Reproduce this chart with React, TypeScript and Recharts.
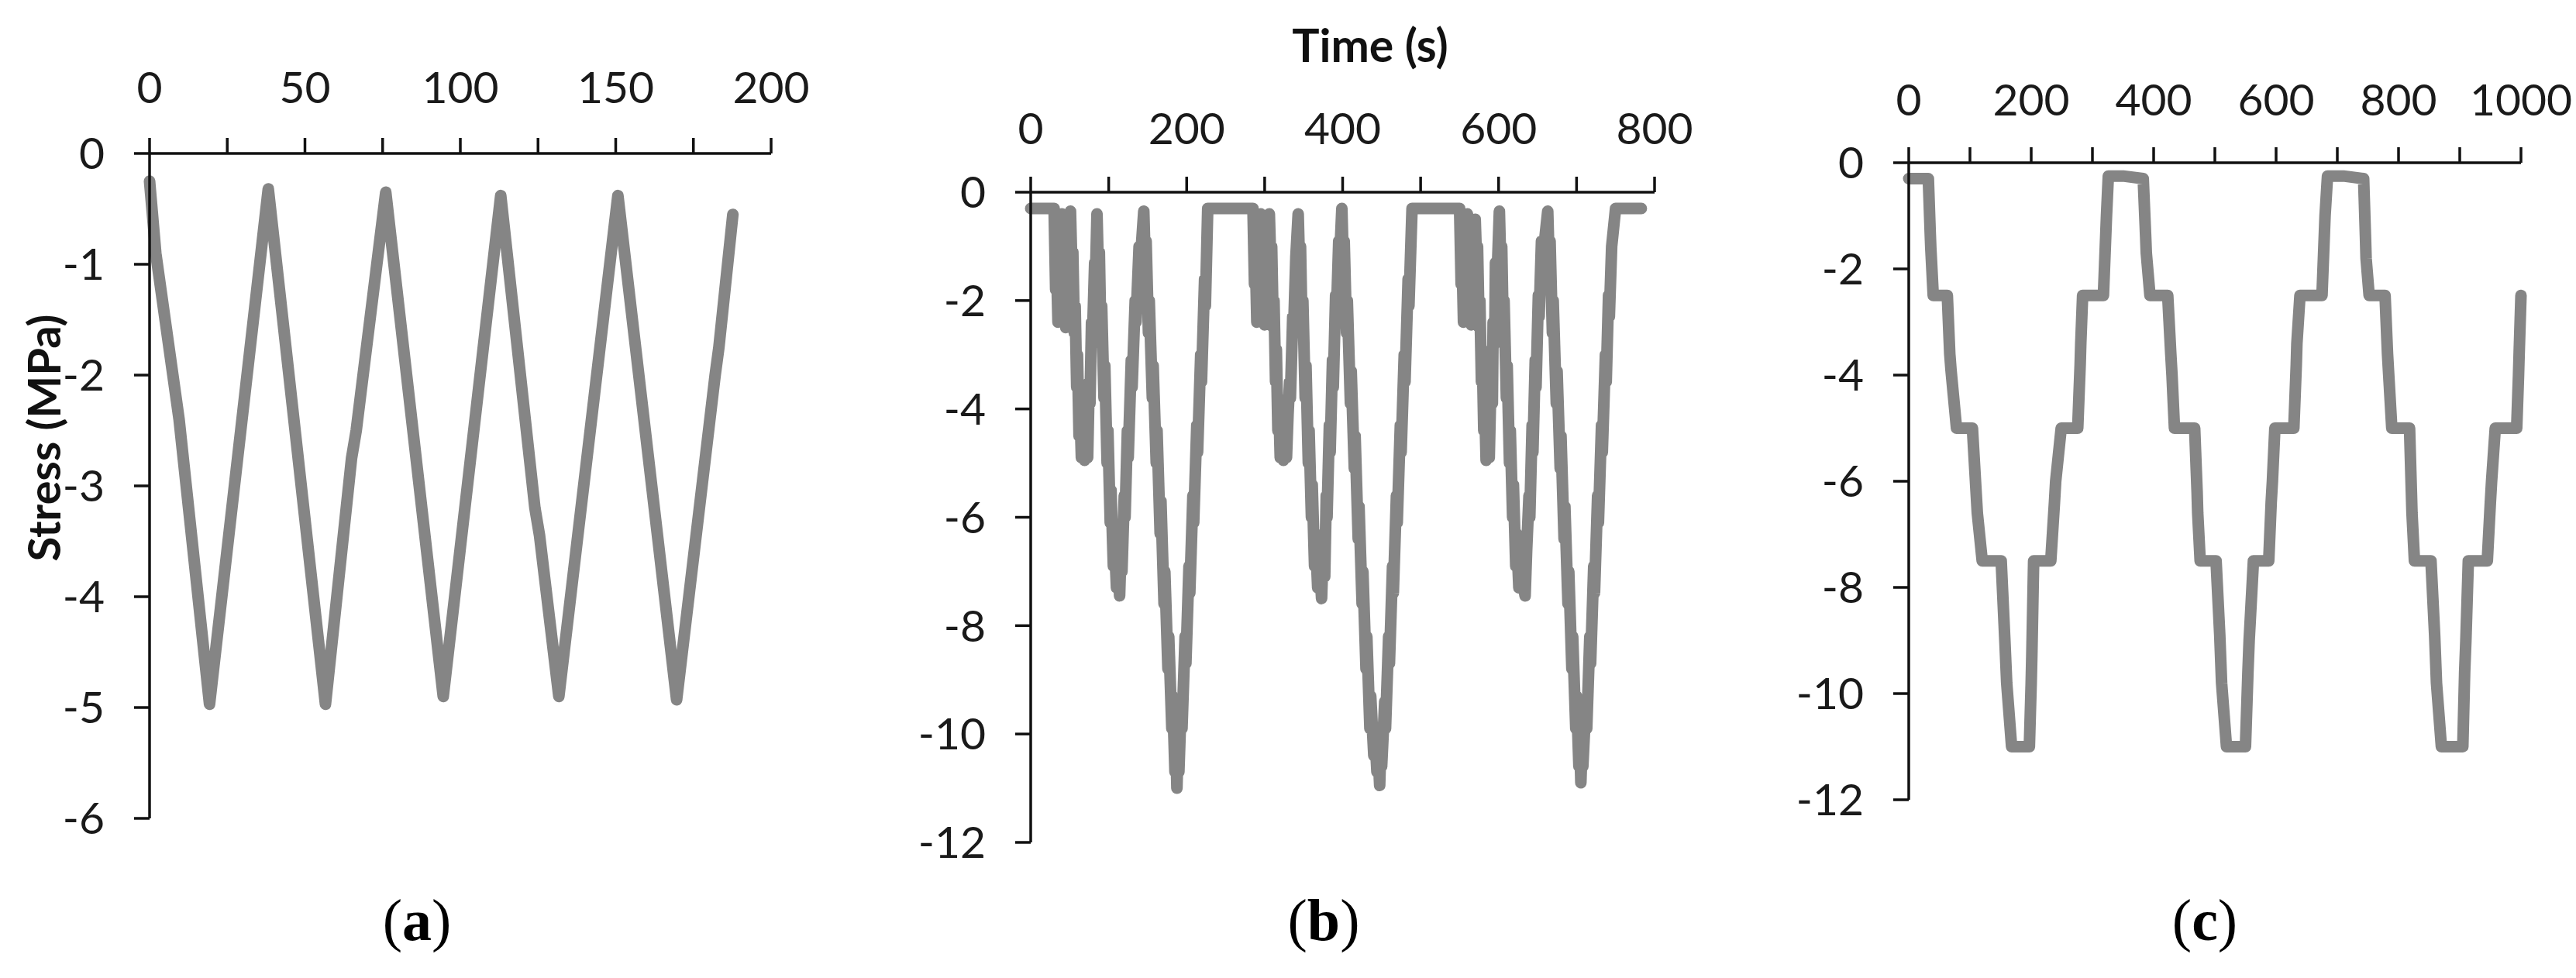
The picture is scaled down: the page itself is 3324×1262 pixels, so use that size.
import React from 'react';
import { LineChart, Line, XAxis, YAxis } from 'recharts';

// ---------- Panel (a) ----------
const timeA = [0, 2, 7.5, 9.5, 19.3, 38.2, 56.6, 65, 66.5, 76, 94.5, 113, 124, 125.5, 131.7, 150.7, 169.6, 182, 183.2, 187.7];
const stressA = [-0.25, -0.9, -2.0, -2.4, -4.97, -0.32, -4.97, -2.75, -2.5, -0.35, -4.9, -0.38, -3.2, -3.45, -4.9, -0.38, -4.93, -2.0, -1.75, -0.55];
const xTicksA = [0, 25, 50, 75, 100, 125, 150, 175, 200];
const xLabelsA = [0, 50, 100, 150, 200];
const yTicksA = [-6, -5, -4, -3, -2, -1, 0];

// ---------- Panel (b) ----------
const timeB = [
  0, 30, 32, 33, 35, 37, 38, 40, 42, 43, 45, 47, 48, 51, 53, 54, 56, 57, 59, 60, 62, 63, 65, 67, 69, 71, 73, 75, 76, 78, 79, 82, 83, 85,
  87, 88, 90, 91, 94, 95, 98, 99, 102, 103, 106, 107, 110, 112, 114, 116, 117, 120, 121, 124, 125, 129, 130, 134, 135, 139, 140, 145,
  147, 148, 151, 152, 156, 157, 161, 162, 166, 167, 171, 172, 176, 177, 181, 182, 185, 186, 187.5, 189, 190, 193, 194, 198, 199, 203, 204, 208, 209, 213, 214, 218, 219, 223, 224, 227,
  285, 287, 288, 290, 292, 293, 295, 297, 298, 300, 302, 303, 306, 308, 309, 311, 312, 314, 315, 317, 318, 320, 322, 324, 326, 328, 330, 332, 333, 336, 337, 340, 343,
  345, 346, 348, 349, 352, 353, 356, 357, 360, 361, 364, 365, 368, 370, 373, 375, 377, 379, 380, 383, 384, 387, 388, 391, 392, 395, 396, 399,
  401, 402, 405, 406, 410, 411, 415, 416, 420, 421, 425, 426, 430, 431, 435, 436, 440, 441, 444, 445, 447.5, 449, 450, 454, 455, 459, 460, 464, 465, 469, 470, 474, 475, 479, 480, 484, 485, 489,
  550, 552, 553, 555, 557, 558, 560, 562, 563, 565, 567, 568, 570, 572, 573, 575, 576, 578, 579, 581, 582, 584, 586, 588, 590, 592, 593, 595, 596, 598, 601,
  603, 604, 606, 607, 610, 611, 614, 615, 618, 619, 622, 623, 626, 628, 631, 634, 636, 639, 640, 643, 644, 647, 648, 651, 652, 655, 656, 663,
  665, 666, 669, 670, 674, 675, 679, 680, 684, 685, 689, 690, 694, 695, 699, 700, 703, 704, 705.5, 707, 708, 712, 713, 717, 718, 722, 723, 727, 728, 732, 733, 737, 738, 741, 742, 745, 750,
  783,
];
const stressB = [
  -0.3, -0.3, -1.8, -1.2, -2.4, -0.9, -2.0, -0.4, -1.6, -1.0, -2.5, -1.5, -2.2, -0.35, -1.5, -1.1, -2.6, -2.1, -3.6, -3.0, -4.5, -3.9, -4.9, -4.2, -4.95, -4.4, -4.9, -3.5, -3.9, -2.4, -2.8, -1.3, -1.6, -0.4,
  -1.6, -1.1, -2.7, -2.1, -3.8, -3.2, -5.0, -4.4, -6.1, -5.5, -6.9, -6.3, -7.3, -6.7, -7.45, -6.5, -7.0, -5.6, -6.0, -4.4, -4.9, -3.1, -3.6, -2.0, -2.4, -1.0, -1.4, -0.35,
  -1.4, -0.9, -2.6, -2.0, -3.8, -3.2, -5.0, -4.4, -6.3, -5.7, -7.6, -7.0, -8.8, -8.2, -9.9, -9.3, -10.7, -10.1, -11.0, -10.2, -10.7, -9.4, -9.9, -8.2, -8.7, -6.9, -7.4, -5.6, -6.1, -4.3, -4.8, -3.0, -3.5, -1.6, -2.1, -0.3,
  -0.3, -1.7, -1.1, -2.4, -0.9, -1.9, -0.4, -1.5, -1.0, -2.45, -1.4, -2.1, -0.4, -1.4, -1.0, -2.5, -2.0, -3.5, -2.9, -4.4, -3.8, -4.9, -4.2, -4.95, -4.3, -4.9, -4.1, -3.5, -3.8, -2.3, -2.6, -1.2, -0.4,
  -1.5, -1.0, -2.6, -2.0, -3.8, -3.2, -5.0, -4.4, -6.0, -5.4, -6.9, -6.3, -7.3, -6.7, -7.5, -6.6, -7.1, -5.6, -6.0, -4.3, -4.8, -3.1, -3.6, -1.9, -2.3, -0.9, -1.3, -0.3,
  -1.4, -0.9, -2.6, -2.0, -3.9, -3.3, -5.1, -4.5, -6.4, -5.8, -7.6, -7.0, -8.8, -8.2, -9.9, -9.3, -10.4, -9.9, -10.7, -10.2, -10.95, -10.2, -10.6, -9.4, -9.9, -8.2, -8.7, -6.9, -7.4, -5.6, -6.1, -4.3, -4.8, -3.0, -3.5, -1.6, -2.1, -0.3,
  -0.3, -1.7, -1.1, -2.4, -0.9, -1.9, -0.4, -1.5, -1.0, -2.45, -1.4, -2.1, -0.5, -1.4, -1.0, -2.5, -2.0, -3.5, -2.9, -4.4, -3.8, -4.95, -4.2, -4.9, -3.6, -3.9, -2.4, -2.8, -1.3, -1.6, -0.35,
  -1.5, -1.0, -2.6, -2.0, -3.8, -3.2, -5.0, -4.4, -6.0, -5.4, -6.9, -6.3, -7.3, -6.7, -7.2, -7.45, -6.6, -5.6, -6.0, -4.3, -4.8, -3.1, -3.6, -1.9, -2.3, -0.9, -1.3, -0.35,
  -1.4, -0.9, -2.6, -2.0, -3.9, -3.3, -5.1, -4.5, -6.4, -5.8, -7.6, -7.0, -8.8, -8.2, -9.9, -9.3, -10.6, -10.1, -10.9, -10.2, -10.6, -9.4, -9.9, -8.2, -8.7, -6.9, -7.4, -5.6, -6.1, -4.3, -4.8, -3.0, -3.5, -1.9, -2.3, -1.0, -0.3,
  -0.3,
];
const xTicksB = [0, 100, 200, 300, 400, 500, 600, 700, 800];
const xLabelsB = [0, 200, 400, 600, 800];
const yTicksB = [-12, -10, -8, -6, -4, -2, 0];

// ---------- Panel (c) ----------
const timeC = [
  0, 32, 35, 36, 40, 63, 67, 69, 78, 104, 110, 112, 120, 151, 157, 160, 168, 197, 200, 201, 204, 232, 238, 240, 249, 276, 280, 281, 284, 318, 322, 323, 326, 350, 383,
  387, 388, 394, 423, 428, 430, 434, 467, 471, 472, 476, 502, 508, 511, 519, 550, 554, 556, 563, 588, 592, 594, 598, 629, 633, 634, 639, 675, 679, 680, 684, 710, 743,
  746, 747, 752, 778, 782, 784, 789, 818, 821, 822, 826, 853, 859, 862, 870, 905, 908, 910, 914, 945, 950, 952, 958, 993, 996, 997, 1000,
];
const stressC = [
  -0.3, -0.3, -1.3, -1.6, -2.5, -2.5, -3.6, -3.9, -5.0, -5.0, -6.2, -6.6, -7.5, -7.5, -9.0, -9.8, -11.0, -11.0, -9.8, -9.3, -7.5, -7.5, -6.4, -6.0, -5.0, -5.0, -3.8, -3.4, -2.5, -2.5, -1.3, -1.0, -0.25, -0.25, -0.3,
  -1.4, -1.7, -2.5, -2.5, -3.6, -4.0, -5.0, -5.0, -6.2, -6.6, -7.5, -7.5, -8.9, -9.8, -11.0, -11.0, -9.6, -9.0, -7.5, -7.5, -6.4, -6.0, -5.0, -5.0, -3.8, -3.4, -2.5, -2.5, -1.3, -1.0, -0.25, -0.25, -0.3,
  -1.4, -1.8, -2.5, -2.5, -3.6, -4.0, -5.0, -5.0, -6.2, -6.6, -7.5, -7.5, -8.9, -9.8, -11.0, -11.0, -9.6, -9.0, -7.5, -7.5, -6.4, -6.0, -5.0, -5.0, -4.0, -3.6, -2.5,
];
const xTicksC = [0, 100, 200, 300, 400, 500, 600, 700, 800, 900, 1000];
const xLabelsC = [0, 200, 400, 600, 800, 1000];
const yTicksC = [-12, -10, -8, -6, -4, -2, 0];

// ---------- Text ----------
const yTitle = 'Stress (MPa)';
const xTitle = 'Time (s)';
const captions = ['a', 'b', 'c'];

const zip = (t: number[], s: number[]) => t.map((v, i) => ({ t: v, s: s[i] }));

const LINE = '#858585';
const AXIS = '#111111';
const TICK_FONT = { fill: '#1a1a1a', fontSize: 57, fontFamily: 'Lato' };

type PanelProps = {
  data: { t: number; s: number }[];
  left: number;
  width: number;
  margin: { top: number; right: number; bottom: number; left: number };
  xDomain: [number, number];
  yDomain: [number, number];
  xTicks: number[];
  xLabels: number[];
  yTicks: number[];
  xMargin: number;
  yMargin: number;
};

function Panel(p: PanelProps) {
  return (
    <div style={{ position: 'absolute', left: p.left, top: 0 }}>
      <LineChart width={p.width} height={1262} data={p.data} margin={p.margin}>
        <XAxis
          type="number"
          dataKey="t"
          orientation="top"
          domain={p.xDomain}
          ticks={p.xTicks}
          interval={0}
          height={100}
          tickFormatter={(v: number) => (p.xLabels.includes(v) ? String(v) : '')}
          axisLine={{ stroke: AXIS, strokeWidth: 3.5 }}
          tickLine={{ stroke: AXIS, strokeWidth: 3.5 }}
          tickSize={20}
          tickMargin={p.xMargin}
          tick={TICK_FONT}
        />
        <YAxis
          type="number"
          domain={p.yDomain}
          ticks={p.yTicks}
          interval={0}
          width={150}
          axisLine={{ stroke: AXIS, strokeWidth: 3.5 }}
          tickLine={{ stroke: AXIS, strokeWidth: 3.5 }}
          tickSize={20}
          tickMargin={p.yMargin}
          tick={TICK_FONT}
        />
        <Line
          type="linear"
          dataKey="s"
          stroke={LINE}
          strokeWidth={15}
          strokeLinejoin="round"
          strokeLinecap="round"
          dot={false}
          activeDot={false}
          isAnimationActive={false}
        />
      </LineChart>
    </div>
  );
}

export default function App() {
  return (
    <div style={{ position: 'fixed', left: 0, top: 0, width: 3324, height: 1262, background: '#ffffff', overflow: 'hidden' }}>
      <Panel
        data={zip(timeA, stressA)}
        left={0}
        width={1100}
        margin={{ top: 98, right: 105, bottom: 206, left: 43 }}
        xDomain={[0, 200]}
        yDomain={[-6, 0]}
        xTicks={xTicksA}
        xLabels={xLabelsA}
        yTicks={yTicksA}
        xMargin={45}
        yMargin={38}
      />
      <Panel
        data={zip(timeB, stressB)}
        left={1150}
        width={1100}
        margin={{ top: 148, right: 115, bottom: 175, left: 30 }}
        xDomain={[0, 800]}
        yDomain={[-12, 0]}
        xTicks={xTicksB}
        xLabels={xLabelsB}
        yTicks={yTicksB}
        xMargin={42}
        yMargin={38}
      />
      <Panel
        data={zip(timeC, stressC)}
        left={2300}
        width={1024}
        margin={{ top: 110, right: 71, bottom: 230, left: 13 }}
        xDomain={[0, 1000]}
        yDomain={[-12, 0]}
        xTicks={xTicksC}
        xLabels={xLabelsC}
        yTicks={yTicksC}
        xMargin={41}
        yMargin={38}
      />
      <svg width={3324} height={1262} style={{ position: 'absolute', left: 0, top: 0, pointerEvents: 'none' }}>
        <text
          x={55}
          y={565}
          transform="rotate(-90 55 565)"
          textAnchor="middle"
          dominantBaseline="central"
          fontFamily="Lato"
          fontWeight="bold"
          fontSize={58}
          fill="#111"
        >
          {yTitle}
        </text>
        <text x={1768} y={80} textAnchor="middle" fontFamily="Lato" fontWeight="bold" fontSize={59} fill="#111">
          {xTitle}
        </text>
        {[538, 1708, 2845].map((cx, i) => (
          <text key={captions[i]} x={cx} y={1213} textAnchor="middle" fontFamily="Liberation Serif" fontSize={76} fill="#000">
            (<tspan fontWeight="bold">{captions[i]}</tspan>)
          </text>
        ))}
      </svg>
    </div>
  );
}
